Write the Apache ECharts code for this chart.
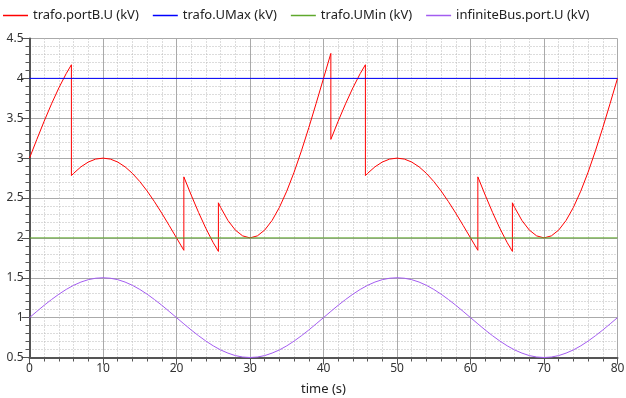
<!DOCTYPE html>
<html><head><meta charset="utf-8">
<script src="https://cdn.jsdelivr.net/npm/echarts@6/dist/echarts.min.js"></script>
<style>html,body{margin:0;padding:0;background:#fff}#c{width:626px;height:398px}</style>
</head><body><div id="c"></div>
<script>
var seriesNames = ['trafo.portB.U (kV)', 'trafo.UMax (kV)', 'trafo.UMin (kV)', 'infiniteBus.port.U (kV)'];
var xTitle = 'time (s)';

var redTime = [0,1,2,3,4,5,5.7,5.7,
  6,7,8,9,10,11,12,13,14,15,16,17,18,19,20,21,21,
  22,23,24,25,25.7,25.7,
  26,27,28,29,30,31,32,33,34,35,36,37,38,39,40,41,41,
  42,43,44,45,45.7,45.7,
  46,47,48,49,50,51,52,53,54,55,56,57,58,59,60,61,61,
  62,63,64,65,65.7,65.7,
  66,67,68,69,70,71,72,73,74,75,76,77,78,79,80];
var redValue = [3.000,3.235,3.464,3.681,3.882,4.061,4.171,2.781,
  2.809,2.891,2.951,2.988,3.000,2.988,2.951,2.891,2.809,2.707,2.588,2.454,2.309,2.156,2.000,1.844,2.765,
  2.537,2.319,2.118,1.939,1.830,2.440,
  2.382,2.218,2.098,2.025,2.000,2.025,2.098,2.218,2.382,2.586,2.824,3.092,3.382,3.687,4.000,4.313,3.235,
  3.464,3.681,3.882,4.061,4.171,2.781,
  2.809,2.891,2.951,2.988,3.000,2.988,2.951,2.891,2.809,2.707,2.588,2.454,2.309,2.156,2.000,1.844,2.765,
  2.537,2.319,2.118,1.939,1.830,2.440,
  2.382,2.218,2.098,2.025,2.000,2.025,2.098,2.218,2.382,2.586,2.824,3.092,3.382,3.687,4.000];

var limitTime = [0, 80];
var uMaxValue = [4, 4];
var uMinValue = [2, 2];

var busTime = [0,1,2,3,4,5,6,7,8,9,10,11,12,13,14,15,16,17,18,19,20,21,22,23,24,25,26,27,28,29,30,31,32,33,34,35,36,37,38,39,
  40,41,42,43,44,45,46,47,48,49,50,51,52,53,54,55,56,57,58,59,60,61,62,63,64,65,66,67,68,69,70,71,72,73,74,75,76,77,78,79,80];
var busValue = [1.000,1.078,1.155,1.227,1.294,1.354,1.405,1.446,1.476,1.494,1.500,1.494,1.476,1.446,1.405,1.354,1.294,1.227,1.155,1.078,
  1.000,0.922,0.845,0.773,0.706,0.646,0.595,0.555,0.524,0.506,0.500,0.506,0.524,0.555,0.595,0.646,0.706,0.773,0.845,0.922,
  1.000,1.078,1.155,1.227,1.294,1.354,1.405,1.446,1.476,1.494,1.500,1.494,1.476,1.446,1.405,1.354,1.294,1.227,1.155,1.078,
  1.000,0.922,0.845,0.773,0.706,0.646,0.595,0.555,0.524,0.506,0.500,0.506,0.524,0.555,0.595,0.646,0.706,0.773,0.845,0.922,1.000];

function zip(a, b) { return a.map(function (v, i) { return [v, b[i]]; }); }

var FONT = 'Noto Sans';
var chart = echarts.init(document.getElementById('c'));
function mkSeries(name, t, v, color) {
  return { name: name, type: 'line', data: zip(t, v), symbol: 'none', showSymbol: false,
    lineStyle: { color: color, width: 1 }, itemStyle: { color: color }, animation: false };
}
chart.setOption({
  animation: false,
  textStyle: { fontFamily: FONT },
  legend: {
    left: 3, top: 9, padding: 0, itemWidth: 25, itemHeight: 1.5, itemGap: 14, icon: 'rect',
    textStyle: { fontFamily: FONT, fontSize: 13, color: '#222' },
    data: seriesNames
  },
  grid: { left: 29.5, right: 8.5, top: 38.5, bottom: 40.5, containLabel: false, outerBoundsMode: 'none' },
  xAxis: {
    type: 'value', min: 0, max: 80, interval: 10,
    name: xTitle, nameLocation: 'middle', nameGap: 25,
    nameTextStyle: { fontFamily: FONT, fontSize: 13, color: '#222', verticalAlign: 'top' },
    axisLine: { show: true, onZero: false, lineStyle: { color: '#555', width: 2 } },
    axisTick: { show: true, length: 7, lineStyle: { color: '#555' } },
    minorTick: { show: true, splitNumber: 5, length: 4, lineStyle: { color: '#555' } },
    axisLabel: { fontFamily: FONT, fontSize: 12, color: '#333', margin: 5 },
    splitLine: { show: true, lineStyle: { color: '#aaa', width: 1 } },
    minorSplitLine: { show: true, lineStyle: { color: '#b8b8b8', type: [1, 2], width: 1 } }
  },
  yAxis: {
    type: 'value', min: 0.5, max: 4.5, interval: 0.5,
    axisLine: { show: true, onZero: false, lineStyle: { color: '#555', width: 2 } },
    axisTick: { show: true, length: 8, lineStyle: { color: '#555' } },
    minorTick: { show: true, splitNumber: 5, length: 4, lineStyle: { color: '#555' } },
    axisLabel: { fontFamily: FONT, fontSize: 12, color: '#333', margin: 6 },
    splitLine: { show: true, lineStyle: { color: '#aaa', width: 1 } },
    minorSplitLine: { show: true, lineStyle: { color: '#b8b8b8', type: [1, 2], width: 1 } }
  },
  series: [
    mkSeries(seriesNames[0], redTime, redValue, '#ff0000'),
    mkSeries(seriesNames[1], limitTime, uMaxValue, '#0000ff'),
    mkSeries(seriesNames[2], limitTime, uMinValue, '#5fa82c'),
    mkSeries(seriesNames[3], busTime, busValue, '#a35cf0')
  ]
});
</script></body></html>
